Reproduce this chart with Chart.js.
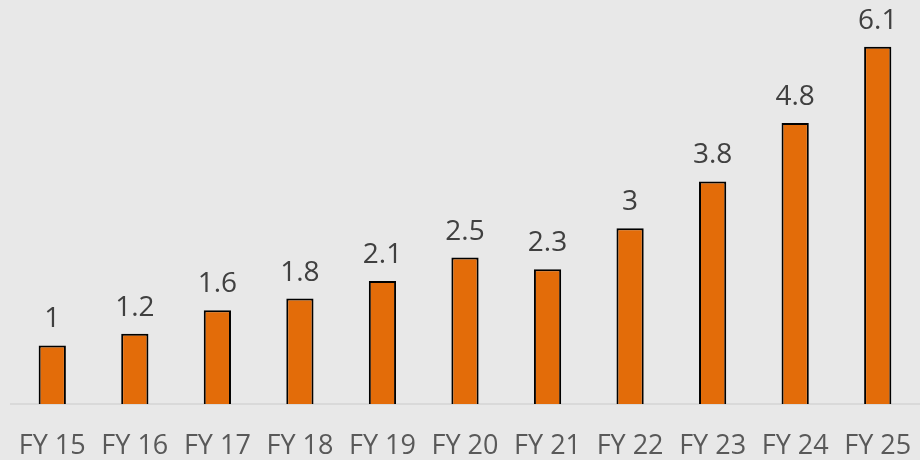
<!DOCTYPE html>
<html>
<head>
<meta charset="utf-8">
<script src="https://cdn.jsdelivr.net/npm/chart.js@4"></script>
<style>
    html, body { margin: 0; padding: 0; background: #e8e8e8; }
    #wrap { width: 920px; height: 460px; }
</style>
</head>
<body>
<div id="wrap"><canvas id="chart" width="920" height="460"></canvas></div>
<script>
// chart data
const years = ['FY 15', 'FY 16', 'FY 17', 'FY 18', 'FY 19', 'FY 20', 'FY 21', 'FY 22', 'FY 23', 'FY 24', 'FY 25'];
const values = [1, 1.2, 1.6, 1.8, 2.1, 2.5, 2.3, 3, 3.8, 4.8, 6.1];

// draws the value above each bar
const valueLabels = {
    id: 'valueLabels',
    afterDatasetsDraw(chart) {
        const ctx = chart.ctx;
        const meta = chart.getDatasetMeta(0);
        ctx.save();
        ctx.font = '28px "Open Sans", sans-serif';
        ctx.fillStyle = '#404040';
        ctx.textAlign = 'center';
        ctx.textBaseline = 'bottom';
        meta.data.forEach((bar, i) => {
            ctx.fillText(String(values[i]), bar.x, bar.y - 12);
        });
        ctx.restore();
    }
};

new Chart(document.getElementById('chart'), {
    type: 'bar',
    data: {
        labels: years,
        datasets: [{
            data: values,
            backgroundColor: '#e36c09',
            borderColor: '#000000',
            borderWidth: 2,
            categoryPercentage: 1,
            barPercentage: 0.33
        }]
    },
    options: {
        responsive: false,
        animation: false,
        layout: { padding: { left: 11, right: 1, top: 0, bottom: 0 } },
        scales: {
            x: {
                grid: { display: false },
                border: { color: '#d9d9d9', width: 2 },
                afterFit(scale) {
                    scale.height = 56;
                    // the edge labels fit inside their own slots, so no side padding
                    scale.paddingLeft = 0;
                    scale.paddingRight = 0;
                },
                ticks: {
                    color: '#595959',
                    font: { family: '"Open Sans", sans-serif', size: 27 },
                    padding: 18,
                    maxRotation: 0,
                    autoSkip: false
                }
            },
            y: {
                display: false,
                min: 0,
                max: 6.9
            }
        },
        plugins: {
            legend: { display: false },
            tooltip: { enabled: false }
        }
    },
    plugins: [valueLabels]
});
</script>
</body>
</html>
